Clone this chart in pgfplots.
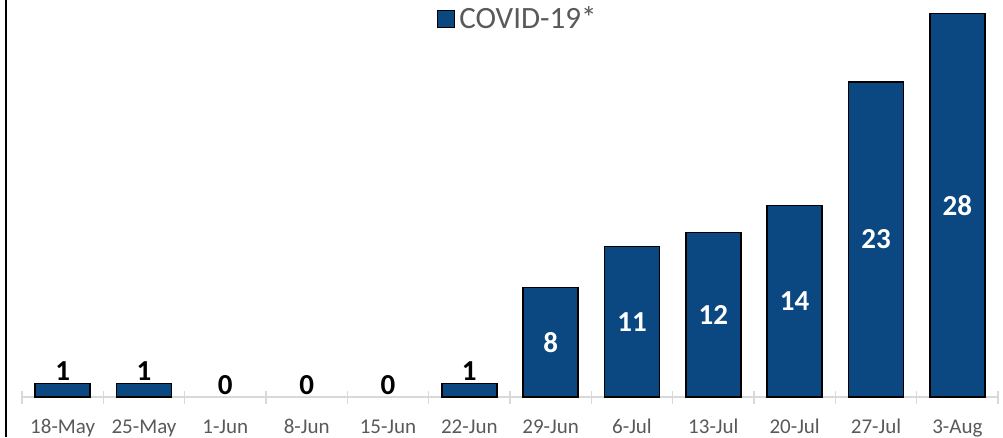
\documentclass[border=0pt]{standalone}
\usepackage{pgfplots}
\pgfplotsset{compat=1.18}
\usepackage{pgfplotstable}
\usepackage{fontspec}
\setmainfont{Carlito}
\definecolor{barblue}{RGB}{11,71,128}
\definecolor{txtgray}{RGB}{89,89,89}
\definecolor{axgray}{RGB}{217,217,217}

\pgfplotstableread{
x y
0 1
1 1
5 1
6 8
7 11
8 12
9 14
10 23
11 28
}\bardata

\pgfplotstableread{
x y
0 1
1 1
2 0
3 0
4 0
5 1
}\smalldata

\pgfplotstableread{
x y
6 8
7 11
8 12
9 14
10 23
11 28
}\largedata

\begin{document}
\begin{tikzpicture}[x=1pt,y=1pt]
\path[use as bounding box] (0,0) rectangle (1003,437);
\draw[black, line width=2pt] (6,0) -- (6,437);
\begin{axis}[
  at={(22pt,40pt)}, anchor=south west,
  scale only axis, width=976pt, height=397pt,
  xmin=-0.5, xmax=11.5, ymin=0, ymax=29,
  axis y line=none, axis x line*=bottom,
  x axis line style={draw=axgray, line width=1.5pt},
  xtick={0,...,11},
  xticklabels={18-May,25-May,1-Jun,8-Jun,15-Jun,22-Jun,29-Jun,6-Jul,13-Jul,20-Jul,27-Jul,3-Aug},
  major tick length=0pt,
  minor xtick={-0.5,0.5,...,11.5},
  minor tick length=13pt,
  tick align=center,
  minor tick style={draw=axgray, line width=1.5pt},
  major tick style={draw=none},
  xticklabel style={anchor=base, yshift=-36pt, font=\fontsize{21}{24}\selectfont, text=txtgray},
  /pgf/number format/assume math mode=true,
  clip=false,
  legend style={at={(0.508,0.953)}, anchor=center, draw=none, fill=none,
    font=\fontsize{31}{34}\selectfont, text=txtgray},
  legend image code/.code={\draw[fill=barblue,draw=black,line width=1.2pt] (0pt,-8.5pt) rectangle (17pt,8.5pt);},
]
\addplot[ybar, bar width=55pt, fill=barblue, draw=black, line width=1.5pt] table[x=x,y=y]{\bardata};
\addlegendentry{\hspace{2pt}COVID-19*}
\addplot[forget plot, draw=none, mark=none, nodes near coords, point meta=y,
  nodes near coords style={font=\fontsize{29}{32}\selectfont\bfseries, text=black, anchor=base, yshift=3pt}]
  table[x=x,y=y]{\smalldata};
\addplot[forget plot, draw=none, mark=none, nodes near coords, point meta=explicit,
  nodes near coords style={font=\fontsize{29}{32}\selectfont\bfseries, text=white, anchor=center}]
  table[x=x, y expr=\thisrow{y}/2, meta=y]{\largedata};
\end{axis}
\end{tikzpicture}
\end{document}
